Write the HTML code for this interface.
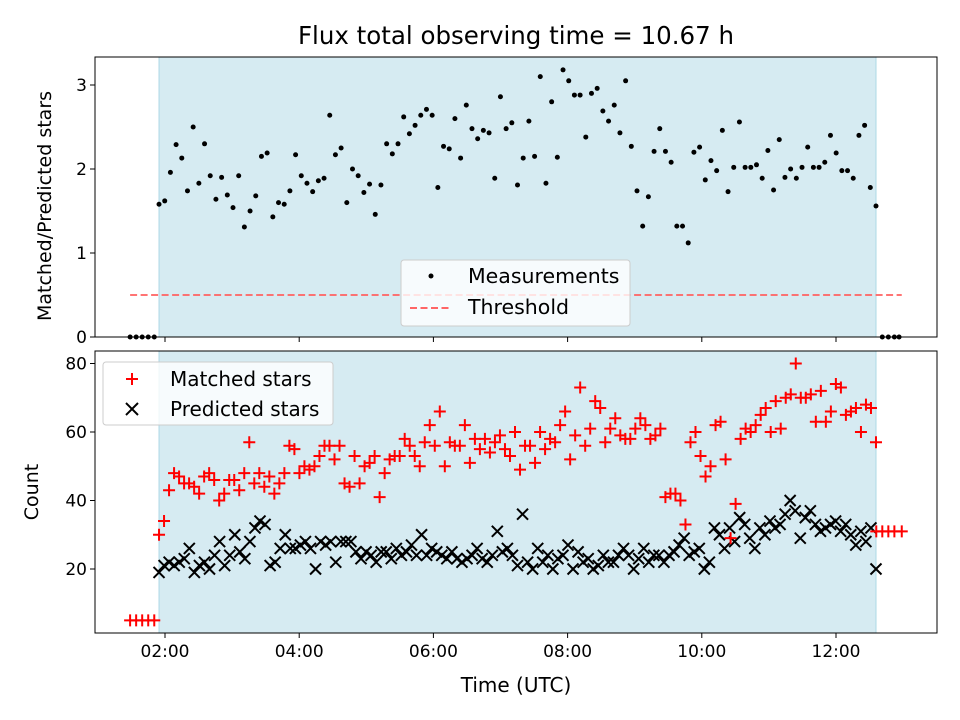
<!DOCTYPE html>
<html><head><meta charset="utf-8"><style>
body{margin:0;background:#fff}
svg{display:block;font-family:"DejaVu Sans","Liberation Sans",sans-serif}
</style></head><body>
<svg id="c" width="960" height="720" viewBox="0 0 960 720">
<text x="516" y="44" font-size="24.5" text-anchor="middle">Flux total observing time = 10.67 h</text>
</svg>
<script>
const ratioValues=[1.58,1.62,1.96,2.29,2.13,1.74,2.50,1.83,2.30,1.92,1.64,1.90,1.69,1.54,1.92,1.31,1.50,1.68,2.15,2.19,1.43,1.60,1.58,1.74,2.17,1.92,1.83,1.73,1.86,1.89,2.64,2.17,2.25,1.60,2.0,1.92,1.72,1.82,1.46,1.81,2.30,2.18,2.30,2.62,2.42,2.52,2.64,2.71,2.64,1.78,2.27,2.24,2.6,2.13,2.76,2.48,2.36,2.46,2.43,1.89,2.86,2.48,2.55,1.81,2.13,2.57,2.15,3.10,1.83,2.8,2.14,3.18,3.05,2.88,2.88,2.38,2.9,2.96,2.69,2.57,2.76,2.43,3.05,2.27,1.74,1.32,1.67,2.21,2.48,2.21,2.08,1.32,1.32,1.12,2.2,2.26,1.87,2.1,1.98,2.46,1.73,2.02,2.56,2.02,2.02,2.05,1.89,2.22,1.75,2.35,1.9,2.0,1.89,2.02,2.26,2.02,2.02,2.08,2.4,2.19,1.98,1.98,1.89,2.4,2.52,1.78,1.56];
const matchedValues=[30,34,43,48,47,45,45,44,42,47,48,46,40,42,46,46,43,48,57,45,48,44,47,42,45,48,56,55,48,50,49,50,53,56,56,52,56,45,44,53,45,50,51,53,41,48,52,53,53,58,56,53,50,57,62,56,66,50,57,56,56,62,51,58,55,58,54,57,59,55,53,60,49,56,56,51,60,55,58,57,62,66,52,59,73,56,61,69,67,57,61,64,59,58,58,61,64,62,58,59,61,41,42,42,40,33,57,60,53,47,50,62,63,52,29,39,58,61,60,62,65,67,60,69,61,70,71,80,70,70,71,63,72,63,66,74,73,65,66,67,60,68,67,57];
const predictedValues=[19,21,22,21,22,23,26,19,21,22,20,24,28,21,24,30,25,23,28,32,34,33,21,22,26,30,26,26,27,28,26,20,28,27,28,22,28,28,28,25,23,25,24,22,25,25,23,26,24,25,27,24,30,24,26,25,24,23,25,23,22,23,24,26,23,22,24,31,25,26,24,21,36,22,20,26,22,24,20,23,24,27,20,25,22,23,20,21,24,22,22,24,26,24,20,23,26,22,24,24,22,24,25,27,29,24,25,26,20,22,32,30,26,32,28,35,33,29,26,32,30,34,32,33,36,40,37,29,35,37,33,31,32,33,34,31,33,30,27,31,28,32,20];
const preTimes=[1.48,1.57,1.66,1.75,1.84];
const preRatio=[0,0,0,0,0];
const preMatched=[5,5,5,5,5];
const postRatioTimes=[12.69,12.78,12.87,12.94];
const postRatio=[0,0,0,0];
const postMatchedTimes=[12.6,12.69,12.78,12.87,12.98];
const postMatched=[31,31,31,31,31];
const obsStart=1.911, obsEnd=12.596;
const threshold=0.5;
const xTicks=[2,4,6,8,10,12];
const xTickLabels=["02:00","04:00","06:00","08:00","10:00","12:00"];
const topTicks=[0,1,2,3];
const botTicks=[20,40,60,80];

const NS="http://www.w3.org/2000/svg";
const svg=document.getElementById('c');
function el(t,a,p){const e=document.createElementNS(NS,t);for(const k in a)e.setAttribute(k,a[k]);(p||svg).appendChild(e);return e;}
const L=95,R=937;
const FS=17;
const X=h=>165+(h-2)*67.1;
const YT=v=>337-v*84;
const YB=v=>569-(v-20)*3.425;
function times(n){const a=[];for(let i=0;i<n;i++)a.push(obsStart+(obsEnd-obsStart)*i/(n-1));return a;}

function panel(top,bot,name){
  const g=el('g',{});
  
  
  const sh=el('rect',{x:X(obsStart),y:top,width:X(obsEnd)-X(obsStart),height:bot-top,fill:'#add8e6','fill-opacity':0.5,stroke:'#add8e6'},g);
  
  
  return g;
}
function frame(top,bot,g){el('rect',{x:L,y:top,width:R-L,height:bot-top,fill:'none',stroke:'#000','stroke-width':1},g);}
function xticks(bot,labels,g){
  xTicks.forEach((t,i)=>{
    el('line',{x1:X(t),x2:X(t),y1:bot,y2:bot+5,stroke:'#000'},g);
    if(labels){const tx=el('text',{x:X(t),y:bot+24,'font-size':FS,'text-anchor':'middle'},g);tx.textContent=xTickLabels[i];
      
      }
  });
}
function yticks(ticks,Y,g){
  ticks.forEach(t=>{
    el('line',{x1:L-5,x2:L,y1:Y(t),y2:Y(t),stroke:'#000'},g);
    const tx=el('text',{x:L-8,y:Y(t)+6,'font-size':FS,'text-anchor':'end'},g);tx.textContent=t;
    
    
  });
}
function dot(x,y,g){const c=el('circle',{cx:x,cy:y,r:2.5,fill:'#000'},g);
  
  }
function plus(x,y,g){const p=el('path',{d:`M${x-6} ${y}H${x+6}M${x} ${y-6}V${y+6}`,stroke:'#f00','stroke-width':2},g);
  
  }
function cross(x,y,g){const p=el('path',{d:`M${x-5.5} ${y-5.5}L${x+5.5} ${y+5.5}M${x-5.5} ${y+5.5}L${x+5.5} ${y-5.5}`,stroke:'#000','stroke-width':2},g);
  
  }

// Top panel
const gt=panel(57,337,'ratio-panel');
const rt=times(ratioValues.length);
ratioValues.forEach((v,i)=>dot(X(rt[i]),YT(v),gt));
preTimes.forEach((t,i)=>dot(X(t),YT(preRatio[i]),gt));
postRatioTimes.forEach((t,i)=>dot(X(t),YT(postRatio[i]),gt));
const th=el('line',{x1:X(preTimes[0]),x2:X(postMatchedTimes[postMatchedTimes.length-1]),y1:YT(threshold),y2:YT(threshold),stroke:'#ff6666','stroke-width':2,'stroke-dasharray':'7,3.5','opacity':0.9},gt);


frame(57,337,gt);xticks(337,false,gt);yticks(topTicks,YT,gt);
const lg1=el('g',{},gt);


el('rect',{x:401,y:260,width:229,height:66,rx:3,fill:'#fff','fill-opacity':0.8,stroke:'#ccc'},lg1);
el('circle',{cx:431,cy:276,r:2.5,fill:'#000'},lg1);
let t1=el('text',{x:468,y:283,'font-size':20.5},lg1);t1.textContent='Measurements';
el('line',{x1:410,x2:452,y1:308,y2:308,stroke:'#ff6666','stroke-width':2,'stroke-dasharray':'7,3.5'},lg1);
let t2=el('text',{x:468,y:314,'font-size':20.5},lg1);t2.textContent='Threshold';
const yl1=el('text',{x:0,y:0,'font-size':19,'text-anchor':'middle',transform:'translate(51,206) rotate(-90)'});
yl1.textContent='Matched/Predicted stars';



// Bottom panel
const gb=panel(351,633,'count-panel');
const mt=times(matchedValues.length), pt=times(predictedValues.length);
predictedValues.forEach((v,i)=>cross(X(pt[i]),YB(v),gb));
matchedValues.forEach((v,i)=>plus(X(mt[i]),YB(v),gb));
preTimes.forEach((t,i)=>plus(X(t),YB(preMatched[i]),gb));
postMatchedTimes.forEach((t,i)=>plus(X(t),YB(postMatched[i]),gb));
frame(351,633,gb);xticks(633,true,gb);yticks(botTicks,YB,gb);
const lg2=el('g',{},gb);


el('rect',{x:103,y:362,width:230,height:63,rx:3,fill:'#fff','fill-opacity':0.8,stroke:'#ccc'},lg2);
el('path',{d:'M126 379H138M132 373V385',stroke:'#f00','stroke-width':2},lg2);
let t3=el('text',{x:170,y:386,'font-size':20},lg2);t3.textContent='Matched stars';
el('path',{d:'M126 403L138 415M126 415L138 403',stroke:'#000','stroke-width':2},lg2);
let t4=el('text',{x:170,y:416,'font-size':20},lg2);t4.textContent='Predicted stars';
const yl2=el('text',{x:0,y:0,'font-size':19,'text-anchor':'middle',transform:'translate(38,492) rotate(-90)'});
yl2.textContent='Count';


const xl=el('text',{x:516,y:692,'font-size':20,'text-anchor':'middle'});
xl.textContent='Time (UTC)';


</script>
</body></html>
